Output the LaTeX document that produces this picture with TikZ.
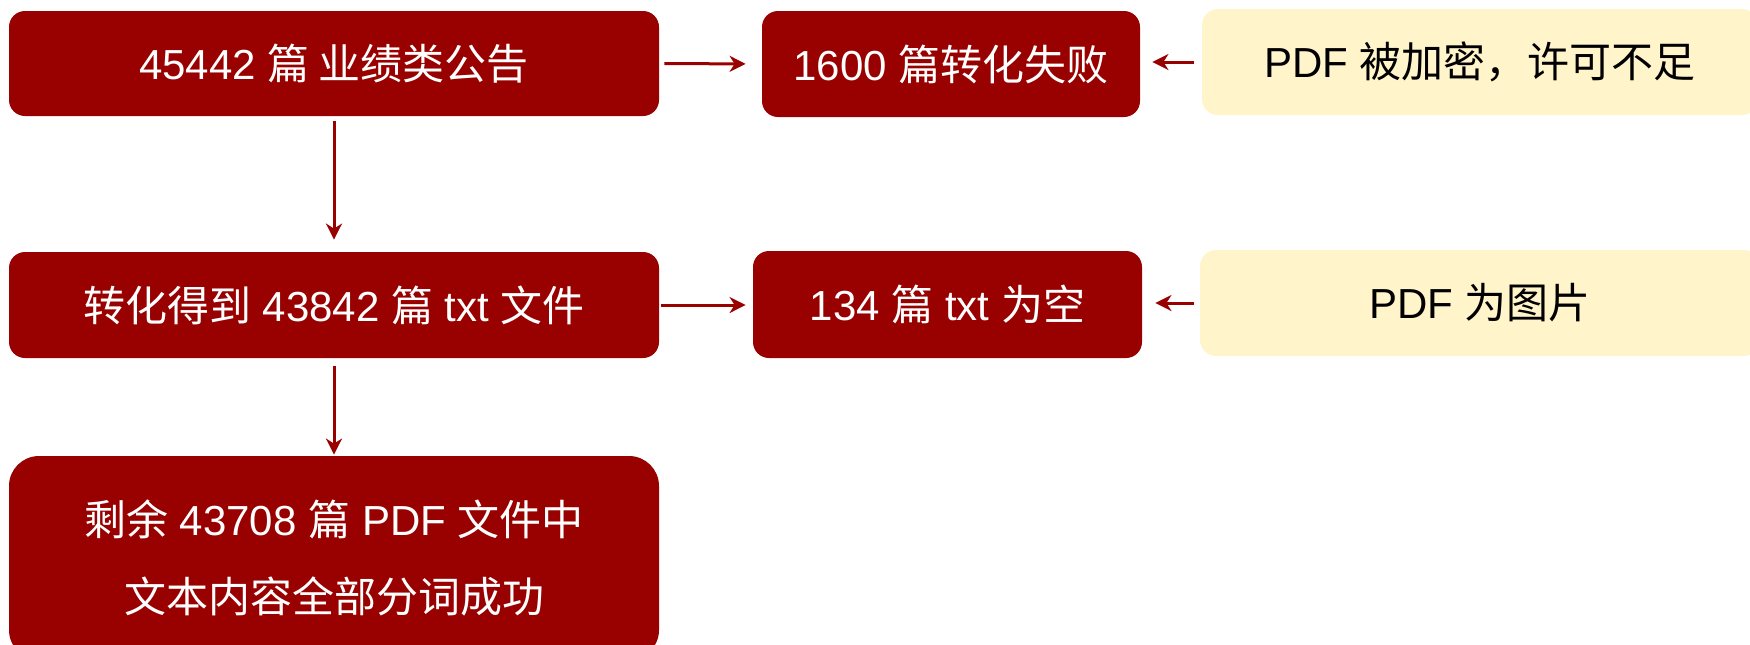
\documentclass[tikz,border=0pt]{standalone}
\usepackage{fontspec}
\setmainfont{Liberation Sans}
\newfontfamily\cjk{Noto Sans CJK SC}
\usetikzlibrary{arrows.meta}
\definecolor{boxred}{HTML}{990000}
\definecolor{boxyellow}{HTML}{FFF4CA}
\newcommand{\zh}[1]{{\cjk #1}}

\begin{document}
\begin{tikzpicture}[x=0.5pt,y=-0.5pt,
  card/.style={inner sep=0pt,rounded corners=8pt,align=center,
    font=\fontsize{21}{38.5}\selectfont},
  redbox/.style={card,fill=boxred,text=white},
  notebox/.style={card,fill=boxyellow,text=black},
  flow/.style={draw=boxred,line width=1.5pt,
    -{Stealth[length=8pt,width=8pt,inset=2.5pt]}}]
\useasboundingbox (0,0) rectangle (1750,644);
\clip (0,0) rectangle (1750,644);

% left column
\node[redbox,minimum width=325pt,minimum height=52.5pt] (total) at (334,63.5)
  {45442 \zh{篇 业绩类公告}};
\node[redbox,minimum width=325pt,minimum height=53pt] (txt) at (334,305)
  {\zh{转化得到} 43842 \zh{篇} txt \zh{文件}};
\node[redbox,rounded corners=15pt,minimum width=325pt,minimum height=102pt] (done) at (334,558)
  {\zh{剩余} 43708 \zh{篇} PDF \zh{文件中}\\ \zh{文本内容全部分词成功}};

% middle column
\node[redbox,minimum width=189pt,minimum height=53pt] (fail) at (951,64)
  {1600 \zh{篇转化失败}};
\node[redbox,minimum width=194.5pt,minimum height=53.5pt] (empty) at (947.5,304.5)
  {134 \zh{篇} txt \zh{为空}};

% right column: reasons
\node[notebox,minimum width=278pt,minimum height=53pt] (locked) at (1480,62)
  {PDF \zh{被加密，许可不足}};
\node[notebox,minimum width=280pt,minimum height=53pt] (image) at (1480,303)
  {PDF \zh{为图片}};

% connectors
\draw[flow,shorten <=2.5pt,shorten >=8pt] (total.east) -- (fail.west);
\draw[flow,shorten <=4pt,shorten >=6pt] (locked.west) -- (locked.west -| fail.east);
\draw[flow,shorten <=2.5pt,shorten >=6pt] (total.south) -- (txt.north);
\draw[flow,shorten <=1pt,shorten >=3.5pt] (txt.east) -- (txt.east -| empty.west);
\draw[flow,shorten <=3pt,shorten >=6.5pt] (image.west) -- (image.west -| empty.east);
\draw[flow,shorten <=4pt,shorten >=0.5pt] (txt.south) -- (done.north);
\end{tikzpicture}
\end{document}
